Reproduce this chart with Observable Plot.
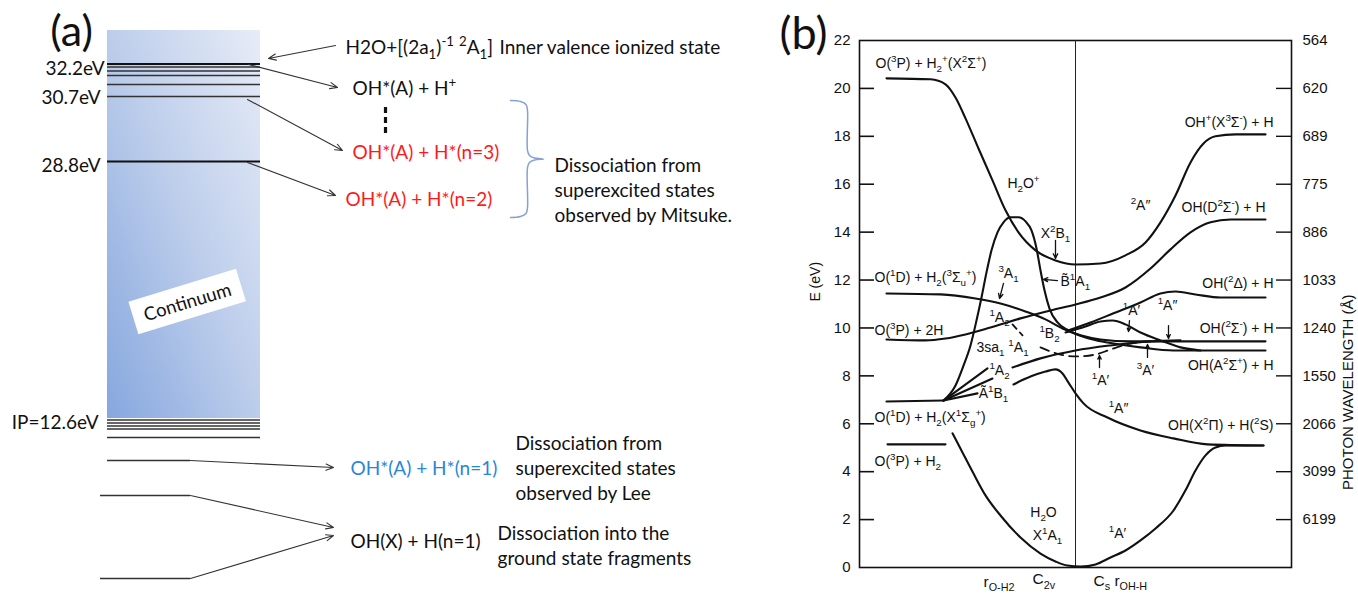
<!DOCTYPE html>
<html><head><meta charset="utf-8">
<script src="https://cdn.jsdelivr.net/npm/d3@7"></script>
<script src="https://cdn.jsdelivr.net/npm/@observablehq/plot@0.6"></script>
<style>
html,body{margin:0;padding:0;background:#fff;}
#root{position:relative;width:1358px;height:597px;overflow:hidden;background:#fff;}
#pa{position:absolute;left:0;top:0;}
#pb{position:absolute;left:770px;top:0;}
</style></head><body><div id="root"><div id="pa"></div><div id="pb"></div></div>
<script>
// ---------------- Panel (a): schematic energy-level diagram (diagram units) ----------------
const continuum = [{x1: 107, x2: 260, y1: 30, y2: 418, name: "Continuum"}];
const majorLevels = [63.5, 161];                 // 32.2 eV, 28.8 eV
const minorLevels = [66.5, 70.5, 75, 84, 96, 419.5, 422.5, 425.5, 428.5, 437];
const lowLevels = [{y: 460, x1: 107, x2: 190}, {y: 495, x1: 100, x2: 190}, {y: 578, x1: 100, x2: 190}];
const levelLabels = [
  {t: "32.2eV", x: 104, y: 68}, {t: "30.7eV", x: 100, y: 97},
  {t: "28.8eV", x: 100, y: 165}, {t: "IP=12.6eV", x: 98, y: 422}
];
const arrowsA = [
  {x1: 335, y1: 45, x2: 268, y2: 58},
  {x1: 248, y1: 64, x2: 337, y2: 87},
  {x1: 247, y1: 99, x2: 342, y2: 150},
  {x1: 247, y1: 162, x2: 335, y2: 195},
  {x1: 190, y1: 460, x2: 333, y2: 467},
  {x1: 190, y1: 495, x2: 333, y2: 527},
  {x1: 190, y1: 578, x2: 333, y2: 535}
];
const dashA = [{x: 385, y1: 107, y2: 133}];
const braceA = [
  {x: 510, y: 100}, {x: 520, y: 101}, {x: 525.5, y: 104}, {x: 527, y: 110}, {x: 527, y: 150},
  {x: 529, y: 155}, {x: 534, y: 157.5}, {x: 543, y: 158.5}, {x: 534, y: 159.5}, {x: 529, y: 162},
  {x: 527, y: 167}, {x: 527, y: 207}, {x: 525.5, y: 213}, {x: 520, y: 216}, {x: 510, y: 217}
];
const blackLabelsA = [
  {t: "H2O+[(2a_1)^{-1} ^2A_1]", x: 345, y: 47},
  {t: "Inner valence ionized state", x: 499, y: 47},
  {t: "OH*(A) + H^+", x: 352, y: 88},
  {t: "OH(X) + H(n=1)", x: 350, y: 541},
  {t: "Dissociation from", x: 554, y: 165},
  {t: "superexcited states", x: 554, y: 190},
  {t: "observed by Mitsuke.", x: 554, y: 215},
  {t: "Dissociation from", x: 515, y: 443},
  {t: "superexcited states", x: 515, y: 468},
  {t: "observed by Lee", x: 515, y: 493},
  {t: "Dissociation into the", x: 497, y: 533},
  {t: "ground state fragments", x: 497, y: 558}
];
const redLabelsA = [{t: "OH*(A) + H*(n=3)", x: 352, y: 152}, {t: "OH*(A) + H*(n=2)", x: 345, y: 199}];
const blueLabelsA = [{t: "OH*(A) + H*(n=1)", x: 350, y: 468}];
const continuumLabel = [{t: "Continuum", x: 187, y: 302}];
const panelA = [{t: "(a)", x: 71, y: 32}];

// ---------------- Panel (b): potential energy curves (x: reaction coordinate 0–432, y: E in eV) ----------------
const eTicks = [0, 2, 4, 6, 8, 10, 12, 14, 16, 18, 20, 22];
const innerTicks = [2, 4, 6, 8, 10, 12, 14, 16, 18, 20];
const wlE = [22, 20, 18, 16, 14, 12, 10, 8, 6, 4, 2];
const wlLabels = ["564", "620", "689", "775", "886", "1033", "1240", "1550", "2066", "3099", "6199"];
const centerLine = [216];

const curveH2plus = [[27,20.42],[71,20.38],[86,20.17],[96,19.62],[106,18.75],[119,17.49],[133,16.16],[146,14.91],[159,13.99],[176,13.24],[196,12.82],[216,12.65],[241,12.69],[266,13.03],[286,13.57],[301,14.41],[316,15.53],[331,16.91],[344,17.70],[356,18.0],[376,18.08],[406,18.08]];
const curve3P2H = [[27,9.52],[66,9.48],[86,9.56],[106,9.73],[131,10.02],[161,10.40],[191,10.73],[216,10.98],[241,11.27],[266,11.69],[291,12.48],[311,13.28],[331,13.99],[351,14.41],[371,14.53],[406,14.53]];
const curve1D3Su = [[27,11.44],[81,11.40],[116,11.23],[141,11.02],[166,10.69],[186,10.36],[203,9.98],[221,9.69],[241,9.52],[271,9.44],[406,9.44]];
const curve3A1 = [[84,6.97],[96,7.60],[104,8.43],[111,9.27],[117,10.31],[122,11.27],[127,12.32],[132,13.24],[138,13.99],[144,14.41],[151,14.62],[159,14.62],[166,14.45],[172,14.07],[177,13.32],[181,12.40],[185,11.57],[190,10.81],[198,10.23],[209,9.90],[226,9.60],[248,9.39],[281,9.19],[314,9.06],[406,9.06]];
const curve1B2 = [[209,9.90],[231,10.23],[254,10.61],[281,11.06],[301,11.44],[316,11.52],[336,11.40],[361,11.27],[406,11.27]];
const curve1Aprime = [[206,9.81],[226,10.06],[241,10.27],[253,10.31],[266,10.15],[281,9.81],[301,9.48],[321,9.19],[341,9.06]];
const curve1A2low = [[153,8.35],[181,8.73],[216,9.06],[251,9.27],[291,9.44],[321,9.48]];
const curveAB1 = [[154,7.64],[171,7.97],[186,8.18],[196,8.27],[203,8.10],[209,7.72],[216,7.27],[224,6.85],[248,6.26],[281,5.72],[314,5.39],[348,5.14],[404,5.09]];
const curveGround = [[93,5.60],[103,4.80],[114,3.92],[126,3.01],[141,2.17],[161,1.25],[181,0.58],[196,0.25],[208,0.08],[221,0.04],[236,0.13],[251,0.42],[266,0.71],[281,1.13],[296,1.63],[314,2.38],[326,3.22],[336,4.05],[346,4.68],[356,5.01],[366,5.09],[404,5.09]];
const level3PH2 = [[28,5.14],[86,5.14]];
const level1DH2 = [[27,6.93],[84,6.97]];
const fan1 = [[84,6.97],[128,8.31]];
const fan2 = [[84,6.97],[133,7.89]];
const fan3 = [[84,6.97],[118,7.27]];
const dash1 = [[153,10.15],[163,9.69]];
const dash2 = [[181,9.19],[201,8.89],[216,8.81],[236,8.89],[251,9.10],[271,9.35],[291,9.44]];

const arrowsB = [
  {x1: 196, y1: 13.65, x2: 196, y2: 12.90},
  {x1: 144, y1: 11.86, x2: 140, y2: 11.23},
  {x1: 198, y1: 11.98, x2: 184, y2: 12.03},
  {x1: 270, y1: 10.31, x2: 269, y2: 9.85},
  {x1: 309, y1: 10.10, x2: 309, y2: 9.56},
  {x1: 240, y1: 8.35, x2: 240, y2: 8.85},
  {x1: 288, y1: 8.77, x2: 288, y2: 9.31}
];
const labelsStartB = [
  {t: "O(^3P) + H_2^+(X^2Σ^+)", x: 16, e: 21.04},
  {t: "O(^1D) + H_2(^3Σ_u^+)", x: 15, e: 12.11},
  {t: "O(^3P) + 2H", x: 15, e: 9.90},
  {t: "O(^1D) + H_2(X^1Σ_g^+)", x: 15, e: 6.26},
  {t: "O(^3P) + H_2", x: 15, e: 4.43},
  {t: "B\u0303^1A_1", x: 201, e: 11.94}
];
const axisNamesB = [
  {t: "r_{O-H}_2", x: 124, e: -0.6},
  {t: "C_{2v}", x: 173, e: -0.5},
  {t: "C_s r_{OH-H}", x: 234, e: -0.55}
];
const labelsEndB = [
  {t: "OH^+(X^3Σ^-) + H", x: 414, e: 18.58},
  {t: "OH(D^2Σ^-) + H", x: 406, e: 15.03},
  {t: "OH(^2Δ) + H", x: 414, e: 11.86},
  {t: "OH(^2Σ^-) + H", x: 414, e: 9.98},
  {t: "OH(A^2Σ^+) + H", x: 414, e: 8.43},
  {t: "OH(X^2Π) + H(^2S)", x: 414, e: 5.93}
];
const labelsMidB = [
  {t: "H_2O^+", x: 164, e: 16.03},
  {t: "X^2B_1", x: 196, e: 13.95},
  {t: "^3A_1", x: 149, e: 12.28},
  {t: "^2A″", x: 281, e: 15.11},
  {t: "^1A_2", x: 140, e: 10.44},
  {t: "3sa_1 ^1A_1", x: 143, e: 9.19},
  {t: "^1B_2", x: 190, e: 9.77},
  {t: "^1A_2", x: 140, e: 8.23},
  {t: "Ã^1B_1", x: 134, e: 7.27},
  {t: "^1A′", x: 272, e: 10.73},
  {t: "^1A″", x: 308, e: 10.94},
  {t: "^1A′", x: 241, e: 7.81},
  {t: "^3A′", x: 286, e: 8.23},
  {t: "^1A″", x: 259, e: 6.64},
  {t: "H_2O", x: 184, e: 2.30},
  {t: "X^1A_1", x: 188, e: 1.34},
  {t: "^1A′", x: 258, e: 1.42}
];
const axisLabelsB = [{t: "E (eV)", e: 11.1, side: "left"}, {t: "PHOTON WAVELENGTH (Å)", e: 11.4, side: "right"}];
const panelB = ["(b)"];

// ---------------- helpers ----------------
function parseRich(s) {
  const segs = []; let buf = "", i = 0;
  while (i < s.length) {
    const c = s[i];
    if ((c === "^" || c === "_") && i + 1 < s.length) {
      if (buf) { segs.push({t: buf, m: 0}); buf = ""; }
      let t, j = i + 1;
      if (s[j] === "{") { const k = s.indexOf("}", j); t = s.slice(j + 1, k); i = k + 1; }
      else { t = s[j]; i = j + 1; }
      segs.push({t, m: c === "^" ? 1 : -1});
    } else { buf += c; i++; }
  }
  if (buf) segs.push({t: buf, m: 0});
  return segs;
}
function richify(svg) {
  const ns = "http://www.w3.org/2000/svg";
  svg.querySelectorAll("text").forEach(el => {
    if (el.querySelector("tspan")) return;
    const s = el.textContent;
    if (!/[\^_]/.test(s)) return;
    const fs = parseFloat(getComputedStyle(el).fontSize) || 14;
    const segs = parseRich(s);
    el.textContent = "";
    let cur = 0;
    for (const sg of segs) {
      const target = sg.m === 1 ? -0.42 * fs : sg.m === -1 ? 0.3 * fs : 0;
      const ts = document.createElementNS(ns, "tspan");
      if (target !== cur) ts.setAttribute("dy", (target - cur).toFixed(2));
      if (sg.m) ts.setAttribute("font-size", (0.7 * fs).toFixed(1));
      ts.textContent = sg.t;
      el.appendChild(ts);
      cur = target;
    }
  });
}
function boxify(svg, label) {
  const ns = "http://www.w3.org/2000/svg";
  svg.querySelectorAll("text").forEach(el => {
    if (el.textContent !== label) return;
    const b = el.getBBox();
    const r = document.createElementNS(ns, "rect");
    r.setAttribute("x", b.x - 11); r.setAttribute("y", b.y - 6);
    r.setAttribute("width", b.width + 22); r.setAttribute("height", b.height + 12);
    r.setAttribute("fill", "white");
    const tr = el.getAttribute("transform"); if (tr) r.setAttribute("transform", tr);
    el.parentNode.insertBefore(r, el);
  });
}
const pts = arr => arr.map(([x, e]) => ({x, e}));

// ---------------- Panel (a) ----------------
const levelRows = lvls => lvls.map(y => ({y, x1: continuum[0].x1, x2: continuum[0].x2}));
const plotA = Plot.plot({
  width: 770, height: 597, margin: 0,
  x: {domain: [0, 770], range: [0, 770], axis: null},
  y: {domain: [0, 597], range: [0, 597], axis: null},
  style: {fontFamily: "Lato, 'Open Sans', sans-serif", fontSize: "19px", background: "white", color: "#111"},
  marks: [
    Plot.rect(continuum, {x1: "x1", x2: "x2", y1: "y1", y2: "y2", fill: "url(#contGrad)"}),
    Plot.ruleY(levelRows(majorLevels), {y: "y", x1: "x1", x2: "x2", stroke: "#111", strokeWidth: 2.2}),
    Plot.ruleY(levelRows(minorLevels), {y: "y", x1: "x1", x2: "x2", stroke: "#333", strokeWidth: 1.3}),
    Plot.ruleY(lowLevels, {y: "y", x1: "x1", x2: "x2", stroke: "#333", strokeWidth: 1.3}),
    Plot.arrow(arrowsA, {x1: "x1", y1: "y1", x2: "x2", y2: "y2", stroke: "#333", strokeWidth: 1.1, headLength: 11, headAngle: 45}),
    Plot.ruleX(dashA, {x: "x", y1: "y1", y2: "y2", stroke: "#111", strokeWidth: 3.2, strokeDasharray: "6,4"}),
    Plot.line(braceA, {x: "x", y: "y", stroke: "#86a2cf", strokeWidth: 1.5, curve: "catmull-rom"}),
    Plot.text(levelLabels, {x: "x", y: "y", text: "t", textAnchor: "end"}),
    Plot.text(blackLabelsA, {x: "x", y: "y", text: "t", textAnchor: "start"}),
    Plot.text(redLabelsA, {x: "x", y: "y", text: "t", textAnchor: "start", fill: "#ff1a1a"}),
    Plot.text(blueLabelsA, {x: "x", y: "y", text: "t", textAnchor: "start", fill: "#2a86d6"}),
    Plot.text(continuumLabel, {x: "x", y: "y", text: "t", rotate: -17, fontSize: 18.5}),
    Plot.text(panelA, {x: "x", y: "y", text: "t", fontSize: 43})
  ]
});
document.getElementById("pa").appendChild(plotA);
d3.select(plotA).insert("defs", ":first-child").html(
  `<linearGradient id="contGrad" x1="0" y1="1" x2="1" y2="0">
     <stop offset="0" stop-color="#86a7de"/>
     <stop offset="0.5" stop-color="#bccdeb"/>
     <stop offset="1" stop-color="#e7ecf7"/>
   </linearGradient>`);
boxify(plotA, "Continuum");
richify(plotA);

// ---------------- Panel (b) ----------------
const wlMap = new Map(wlE.map((e, i) => [e, wlLabels[i]]));
const innerW = 432;
const curveStyle = {x: "x", y: "e", stroke: "#111", strokeWidth: 2.1, curve: "monotone-x", strokeLinecap: "round"};
const solidCurves = [curveH2plus, curve3P2H, curve1D3Su, curve3A1, curve1B2, curve1Aprime, curve1A2low, curveAB1, curveGround, level3PH2, level1DH2, fan1, fan2, fan3];
const plotB = Plot.plot({
  width: 588, height: 597,
  marginLeft: 89, marginRight: 67, marginTop: 40, marginBottom: 30,
  x: {domain: [0, innerW], axis: null},
  y: {domain: [0, 22]},
  style: {fontFamily: "'Liberation Sans', Arial, sans-serif", fontSize: "14px", background: "white", color: "#111"},
  marks: [
    Plot.frame({stroke: "#111", strokeWidth: 1.6}),
    Plot.ruleX(centerLine, {stroke: "#222", strokeWidth: 1}),
    Plot.tickY(innerTicks, {y: d => d, insetRight: innerW - 15, stroke: "#111", strokeWidth: 1.6}),
    Plot.tickY(innerTicks, {y: d => d, insetLeft: innerW - 15, stroke: "#111", strokeWidth: 1.4}),
    Plot.axisY({anchor: "left", ticks: eTicks, tickSize: 0, tickPadding: 9, fontSize: 15, label: null}),
    Plot.axisY({anchor: "right", ticks: wlE, tickSize: 0, tickPadding: 11, fontSize: 15, label: null, tickFormat: d => wlMap.get(d)}),
    ...solidCurves.map(c => Plot.line(pts(c), curveStyle)),
    Plot.line(pts(dash1), {...curveStyle, strokeWidth: 1.8, strokeDasharray: "6,5"}),
    Plot.line(pts(dash2), {...curveStyle, strokeWidth: 1.8, strokeDasharray: "9,6"}),
    Plot.arrow(arrowsB, {x1: "x1", y1: "y1", x2: "x2", y2: "y2", stroke: "#111", strokeWidth: 1.3, headLength: 6, headAngle: 50}),
    Plot.text(labelsStartB, {x: "x", y: "e", text: "t", textAnchor: "start"}),
    Plot.text(axisNamesB, {x: "x", y: "e", text: "t", textAnchor: "start", fontSize: 15.5}),
    Plot.text(labelsEndB, {x: "x", y: "e", text: "t", textAnchor: "end"}),
    Plot.text(labelsMidB, {x: "x", y: "e", text: "t", textAnchor: "middle"}),
    Plot.text(axisLabelsB.filter(d => d.side === "left"), {y: "e", text: "t", frameAnchor: "left", dx: -44, rotate: -90, fontSize: 14}),
    Plot.text(axisLabelsB.filter(d => d.side === "right"), {y: "e", text: "t", frameAnchor: "right", dx: 57, rotate: -90, fontSize: 15}),
    Plot.text(panelB, {text: d => d, frameAnchor: "top-left", dx: -56, dy: -6, lineAnchor: "middle", textAnchor: "middle", fontSize: 45, fontFamily: "Lato, 'Open Sans', sans-serif"})
  ]
});
document.getElementById("pb").appendChild(plotB);
richify(plotB);
</script></body></html>
